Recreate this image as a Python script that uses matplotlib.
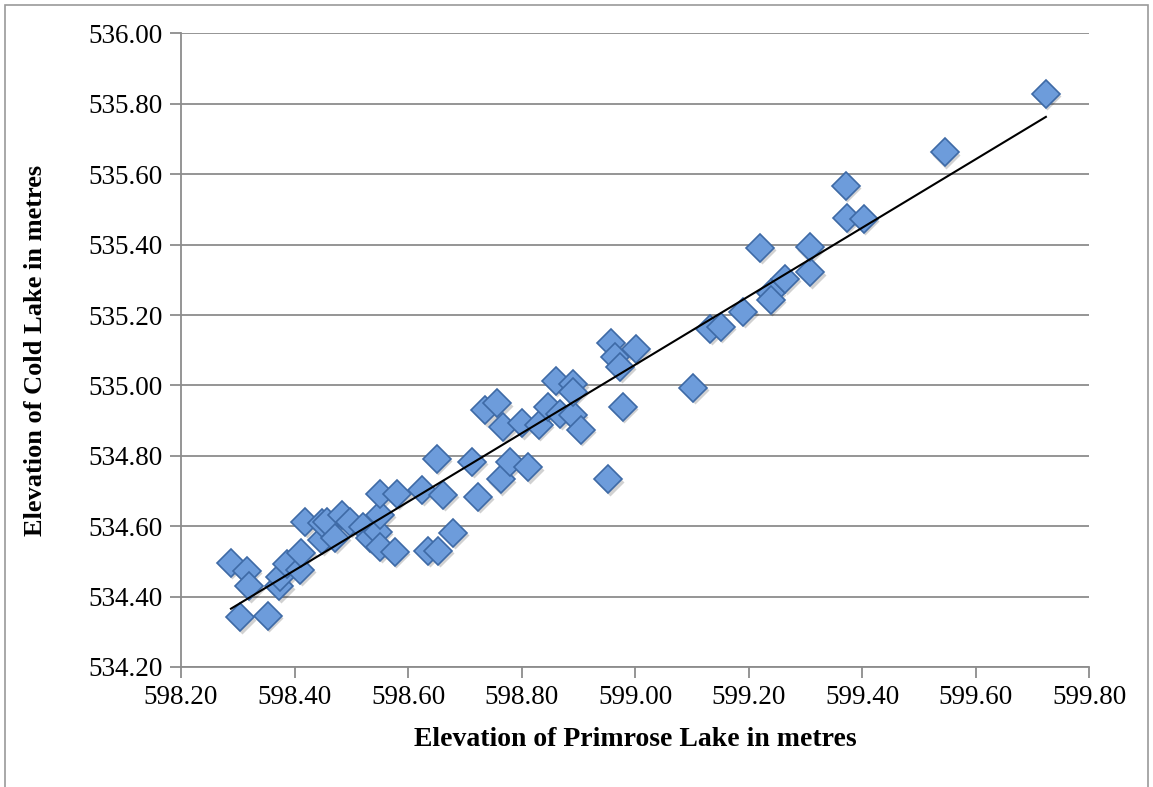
import numpy as np
import matplotlib
matplotlib.use("Agg")
import matplotlib.pyplot as plt
import matplotlib.transforms as mtransforms
from matplotlib.patches import Rectangle

plt.rcParams['font.family'] = ['Liberation Serif', 'DejaVu Serif']

# Lake elevations (metres)
primrose = [
    598.288, 598.316, 598.320, 598.304, 598.353, 598.373, 598.375, 598.387,
    598.410, 598.412, 598.419, 598.449, 598.449, 598.458, 598.472, 598.484,
    598.498, 598.521, 598.533, 598.547, 598.551, 598.551, 598.577, 598.551,
    598.581, 598.625, 598.662, 598.636, 598.653, 598.680, 598.651, 598.713,
    598.724, 598.763, 598.780, 598.812, 598.736, 598.757, 598.768, 598.801,
    598.830, 598.847, 598.868, 598.890, 598.904, 598.860, 598.891, 598.890,
    598.958, 598.965, 598.974, 599.001, 598.978, 598.953, 599.103, 599.133,
    599.151, 599.191, 599.239, 599.239, 599.265, 599.309, 599.221, 599.308,
    599.371, 599.373, 599.403, 599.546, 599.724,
]
cold = [
    534.496, 534.473, 534.430, 534.342, 534.345, 534.430, 534.456, 534.493,
    534.476, 534.524, 534.612, 534.561, 534.609, 534.612, 534.567, 534.632,
    534.612, 534.598, 534.567, 534.584, 534.632, 534.541, 534.527, 534.692,
    534.692, 534.703, 534.689, 534.530, 534.530, 534.581, 534.791, 534.783,
    534.683, 534.734, 534.783, 534.768, 534.930, 534.950, 534.882, 534.893,
    534.888, 534.939, 534.919, 534.916, 534.874, 535.013, 535.004, 534.982,
    535.121, 535.081, 535.053, 535.104, 534.939, 534.734, 534.993, 535.161,
    535.166, 535.209, 535.263, 535.243, 535.303, 535.322, 535.391, 535.393,
    535.567, 535.476, 535.473, 535.663, 535.828,
]
x_ticks = [598.2, 598.4, 598.6, 598.8, 599.0, 599.2, 599.4, 599.6, 599.8]
y_ticks = [534.2, 534.4, 534.6, 534.8, 535.0, 535.2, 535.4, 535.6, 535.8, 536.0]

x = np.array(primrose)
y = np.array(cold)

fig = plt.figure(figsize=(11.53, 7.87), dpi=100)
ax = fig.add_axes([0.157, 0.1525, 0.7875, 0.805])

grid_col = '#8c8c8c'

# shadow under the markers
shadow = mtransforms.offset_copy(ax.transData, fig=fig, x=1.5, y=-2.5, units='dots')
ax.plot(x, y, 'D', ms=14.5, color='#000000', alpha=0.18, mec='none',
        transform=shadow, zorder=3)
ax.plot(x, y, 'D', ms=14.5, mfc='#6d9cdb', mec='#3e6aa6', mew=1.2, zorder=4)

# linear trendline
slope, icpt = np.polyfit(x, y, 1)
xl = np.array([x.min(), x.max()])
ax.plot(xl, slope * xl + icpt, color='black', lw=1.5, zorder=5)

ax.set_xlim(598.2, 599.8)
ax.set_ylim(534.2, 536.0)
ax.set_xticks(x_ticks)
ax.set_yticks(y_ticks)
ax.set_xticklabels([f'{v:.2f}' for v in x_ticks])
ax.set_yticklabels([f'{v:.2f}' for v in y_ticks])
ax.yaxis.grid(True, color=grid_col, lw=1.3)
ax.set_axisbelow(True)

for s in ['top', 'right']:
    ax.spines[s].set_visible(False)
for s in ['left', 'bottom']:
    ax.spines[s].set_color(grid_col)
    ax.spines[s].set_linewidth(1.3)
ax.tick_params(axis='both', direction='out', length=8, width=1.3,
               color=grid_col, labelsize=19.5, pad=5)

ax.set_xlabel('Elevation of Primrose Lake in metres', fontsize=20,
              fontweight='bold')
ax.set_ylabel('Elevation of Cold Lake in metres', fontsize=19,
              fontweight='bold')
ax.xaxis.set_label_coords(0.5, -0.095)
ax.yaxis.set_label_coords(-0.148, 0.5)

# thin frame around the whole chart
fig.patches.append(Rectangle((0.004, -0.01), 0.992, 1.004, transform=fig.transFigure,
                             fill=False, edgecolor='#9a9a9a', lw=1.2))

fig.savefig('out.png', dpi=100)
